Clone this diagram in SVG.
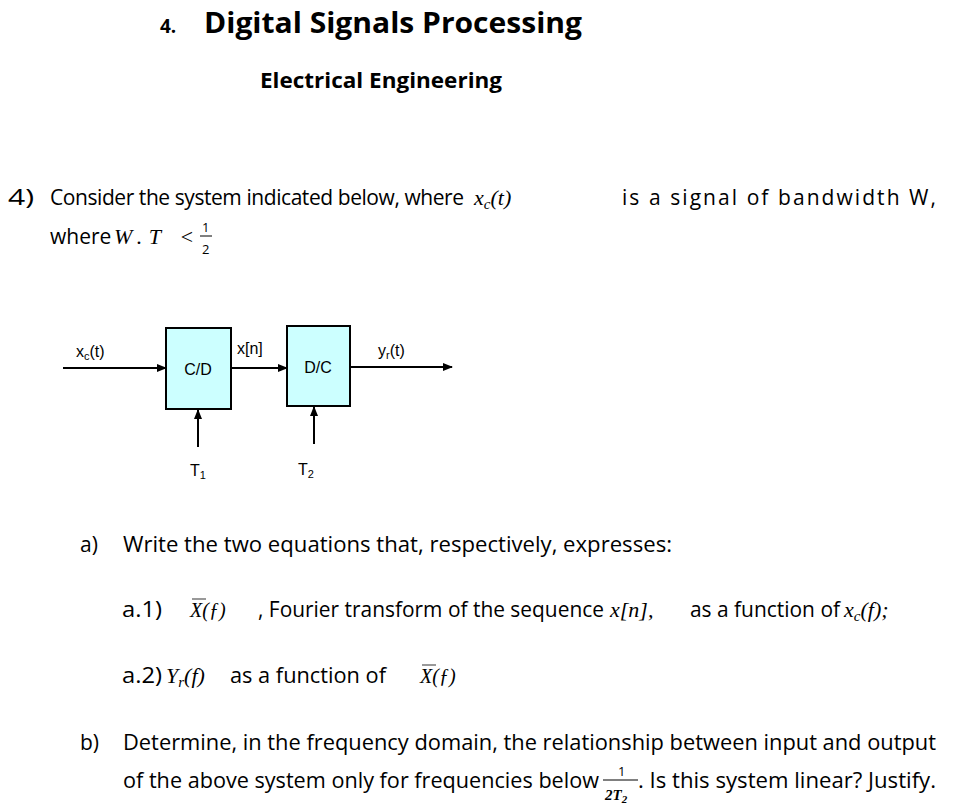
<svg xmlns="http://www.w3.org/2000/svg" width="967" height="808" viewBox="0 0 967 808">
<defs>
<marker id="ah" markerWidth="10" markerHeight="8" refX="9" refY="4" orient="auto" markerUnits="userSpaceOnUse"><path d="M0,0 L10,4 L0,8 Z" fill="#000"/></marker>
<style>
.t{font-family:"Open Sans","Liberation Sans",sans-serif;fill:#000}
.m{font-family:"Liberation Serif",serif;font-style:italic;fill:#000}
.d{font-family:"Liberation Sans",Arial,sans-serif;fill:#000;font-size:16px}
.box{fill:#ccffff;stroke:#000;stroke-width:2}
.ln{stroke:#000;stroke-width:2;fill:none}
</style>
</defs>
<rect width="967" height="808" fill="#fff"/>
<text class="t" x="160" y="33" font-size="19" font-weight="bold">4.</text>
<text class="t" x="204" y="33" font-size="28" font-weight="bold" textLength="378" lengthAdjust="spacingAndGlyphs">Digital Signals Processing</text>
<text class="t" x="260" y="88" font-size="21" font-weight="bold" textLength="242" lengthAdjust="spacingAndGlyphs">Electrical Engineering</text>
<text class="t" x="8" y="205" font-size="21" textLength="26" lengthAdjust="spacingAndGlyphs">4)</text>
<text class="t" x="50" y="205" font-size="21" textLength="414" lengthAdjust="spacing">Consider  the  system  indicated  below,  where</text>
<text class="m" x="474" y="205" font-size="22">x<tspan font-size="15" dy="4">c</tspan><tspan dy="-4">(t)</tspan></text>
<text class="t" x="622" y="205" font-size="21" textLength="314" lengthAdjust="spacing">is  a  signal  of  bandwidth  W,</text>
<text class="t" x="50" y="244" font-size="21">where</text>
<text class="m" x="114" y="244" font-size="22" textLength="80" lengthAdjust="spacing">W.T &lt;</text>
<text class="t" x="202" y="232" font-size="13">1</text>
<line x1="200" y1="236" x2="212" y2="236" stroke="#000" stroke-width="1"/>
<text class="t" x="202" y="254" font-size="13">2</text>

<g id="connectors">
<line class="ln" x1="63" y1="368" x2="166" y2="368" marker-end="url(#ah)"/>
<line class="ln" x1="231" y1="368" x2="287" y2="368" marker-end="url(#ah)"/>
<line class="ln" x1="350" y1="367" x2="452" y2="367" marker-end="url(#ah)"/>
<line class="ln" x1="198" y1="447" x2="198" y2="410" marker-end="url(#ah)"/>
<line class="ln" x1="314" y1="444" x2="314" y2="407" marker-end="url(#ah)"/>
</g>
<g id="cd"><rect class="box" x="166" y="328" width="65" height="81"/><text class="d" x="198" y="375" text-anchor="middle">C/D</text></g>
<g id="dc"><rect class="box" x="287" y="326" width="63" height="80"/><text class="d" x="318" y="373" text-anchor="middle">D/C</text></g>
<g id="labels">
<text class="d" x="76" y="357">x<tspan font-size="11" dy="3">c</tspan><tspan dy="-3">(t)</tspan></text>
<text class="d" x="237" y="354">x[n]</text>
<text class="d" x="378" y="356">y<tspan font-size="11" dy="3">r</tspan><tspan dy="-3">(t)</tspan></text>
<text class="d" x="190" y="476">T<tspan font-size="11" dy="3">1</tspan></text>
<text class="d" x="298" y="475">T<tspan font-size="11" dy="3">2</tspan></text>
</g>

<text class="t" x="80" y="552" font-size="21">a)</text>
<text class="t" x="123" y="552" font-size="21" textLength="549" lengthAdjust="spacingAndGlyphs">Write the two equations that, respectively, expresses:</text>

<text class="t" x="122" y="617" font-size="21" textLength="40" lengthAdjust="spacingAndGlyphs">a.1)</text>
<text class="m" x="190" y="617" font-size="20">X(ƒ)</text>
<line x1="192" y1="599" x2="206" y2="599" stroke="#555" stroke-width="1.2"/>
<text class="t" x="258" y="617" font-size="21" textLength="346" lengthAdjust="spacingAndGlyphs">, Fourier transform of the sequence</text>
<text class="m" x="610" y="617" font-size="22">x[n],</text>
<text class="t" x="690" y="617" font-size="21" textLength="150" lengthAdjust="spacingAndGlyphs">as a function of</text>
<text class="m" x="844" y="617" font-size="22">x<tspan font-size="15" dy="4">c</tspan><tspan dy="-4">(f);</tspan></text>

<text class="t" x="122" y="683" font-size="21" textLength="40" lengthAdjust="spacingAndGlyphs">a.2)</text>
<text class="m" x="166" y="683" font-size="22">Y<tspan font-size="15" dy="4">r</tspan><tspan dy="-4">(f)</tspan></text>
<text class="t" x="230" y="683" font-size="21" textLength="156" lengthAdjust="spacingAndGlyphs">as a function of</text>
<text class="m" x="420" y="683" font-size="20">X(ƒ)</text>
<line x1="422" y1="665" x2="436" y2="665" stroke="#555" stroke-width="1.2"/>

<text class="t" x="80" y="750" font-size="21">b)</text>
<text class="t" x="123" y="750" font-size="21" textLength="813" lengthAdjust="spacingAndGlyphs">Determine, in the frequency domain, the relationship between input and  output</text>
<text class="t" x="123" y="788" font-size="21" textLength="476" lengthAdjust="spacingAndGlyphs">of the above system only for frequencies below</text>
<text class="t" x="618" y="776" font-size="13">1</text>
<line x1="603" y1="780" x2="638" y2="780" stroke="#000" stroke-width="1"/>
<text class="m" x="605" y="800" font-size="15" font-weight="bold">2T<tspan font-size="11" dy="3">2</tspan></text>
<text class="t" x="638" y="788" font-size="21" textLength="298" lengthAdjust="spacingAndGlyphs">.  Is this system linear? Justify.</text>
</svg>
